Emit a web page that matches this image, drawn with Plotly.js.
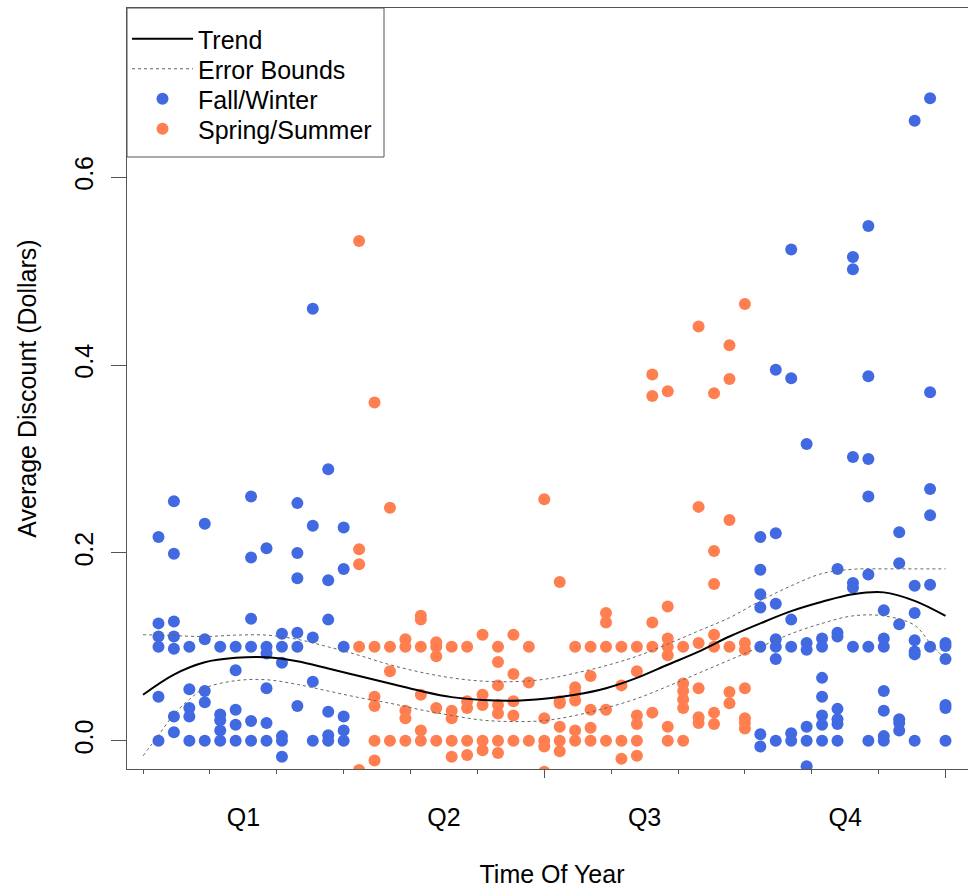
<!DOCTYPE html>
<html>
<head>
<meta charset="utf-8">
<script src="https://cdn.plot.ly/plotly-3.0.1.min.js"></script>
<style>
  html, body { margin: 0; padding: 0; overflow: hidden; background: #fff; }
  #chart { width: 990px; height: 892px; }
</style>
</head>
<body>
<div id="chart"></div>
<script>
// ---------------- DATA ----------------
var fallWinterWeeks = [1,2,3,4,5,6,7,8,9,10,11,12,13,40,41,42,43,44,45,46,47,48,49,50,51,52];
var fallWinterDiscounts = [
  [0.217,0.125,0.111,0.100,0.047,0.0],
  [0.255,0.199,0.127,0.111,0.098,0.026,0.009],
  [0.100,0.055,0.035,0.026,0.0],
  [0.231,0.108,0.053,0.041,0.0],
  [0.100,0.028,0.022,0.011,0.0],
  [0.100,0.075,0.033,0.017,0.0],
  [0.260,0.195,0.130,0.100,0.021,0.0],
  [0.205,0.100,0.093,0.056,0.019,0.0],
  [0.114,0.100,0.083,0.005,0.0,-0.017],
  [0.253,0.200,0.173,0.115,0.100,0.037],
  [0.460,0.229,0.110,0.063,0.0],
  [0.289,0.171,0.129,0.031,0.006,0.0],
  [0.227,0.183,0.100,0.026,0.011,0.0],
  [0.217,0.182,0.156,0.142,0.100,0.007,-0.006],
  [0.395,0.221,0.146,0.108,0.100,0.087,0.0],
  [0.523,0.386,0.129,0.100,0.008,0.0],
  [0.316,0.104,0.097,0.015,0.0,-0.027],
  [0.109,0.100,0.067,0.047,0.027,0.017,0.0],
  [0.183,0.115,0.111,0.034,0.023,0.018,0.0],
  [0.515,0.502,0.302,0.168,0.163,0.100],
  [0.548,0.388,0.300,0.260,0.177,0.100,0.0],
  [0.139,0.109,0.100,0.053,0.032,0.005,0.0],
  [0.222,0.189,0.124,0.023,0.019,0.011],
  [0.660,0.165,0.136,0.107,0.095,0.092,0.0],
  [0.684,0.371,0.268,0.240,0.166,0.100],
  [0.104,0.101,0.087,0.038,0.035,0.0]
];

var springSummerWeeks = [14,15,16,17,18,19,20,21,22,23,24,25,26,27,28,29,30,31,32,33,34,35,36,37,38,39];
var springSummerDiscounts = [
  [0.532,0.204,0.188,0.100,-0.031],
  [0.360,0.100,0.047,0.037,0.0,-0.021],
  [0.248,0.100,0.074,0.0],
  [0.108,0.100,0.032,0.024,0.0],
  [0.133,0.129,0.100,0.049,0.011,0.0],
  [0.105,0.100,0.090,0.035,0.0],
  [0.100,0.032,0.024,0.0,-0.017],
  [0.100,0.042,0.035,0.0,-0.015],
  [0.113,0.049,0.038,0.0,-0.010],
  [0.100,0.084,0.059,0.038,0.029,0.0,-0.013],
  [0.113,0.071,0.042,0.027,0.0],
  [0.100,0.062,0.0],
  [0.257,0.024,0.0,-0.006,-0.033],
  [0.169,0.042,0.040,0.015,0.0,-0.011],
  [0.100,0.057,0.051,0.043,0.011,0.0],
  [0.100,0.069,0.033,0.014,0.0],
  [0.136,0.126,0.100,0.033,0.0],
  [0.100,0.059,0.0,-0.019],
  [0.100,0.074,0.027,0.018,0.0,-0.016],
  [0.390,0.367,0.126,0.100,0.030],
  [0.372,0.143,0.109,0.100,0.091,0.015,0.0],
  [0.100,0.061,0.053,0.044,0.035,0.0],
  [0.441,0.249,0.104,0.056,0.025,0.019],
  [0.370,0.202,0.167,0.113,0.100,0.030,0.018],
  [0.421,0.385,0.235,0.100,0.052,0.040],
  [0.465,0.104,0.097,0.056,0.024,0.019,0.013]
];

var curveWeeks = [0,2,4,6,8,10,12,14,16,18,20,22,24,26,28,30,32,34,36,38,40,42,44,46,48,50,52];
var trendValues = [0.049,0.0705,0.0836,0.0883,0.089,0.0847,0.077,0.069,0.061,0.053,0.0465,0.0435,0.0427,0.0447,0.049,0.056,0.067,0.081,0.095,0.111,0.125,0.138,0.148,0.156,0.158,0.149,0.133];
var upperBoundValues = [0.113,0.112,0.111,0.1125,0.1125,0.108,0.100,0.091,0.081,0.073,0.067,0.0635,0.063,0.0655,0.072,0.080,0.090,0.103,0.117,0.131,0.149,0.165,0.178,0.1826,0.183,0.183,0.183];
var lowerBoundWeeks = [0,1,2,3,4,6,8,10,12,14,16,18,20,22,24,26,28,30,32,34,36,38,40,42,44,46,48,50,51,52];
var lowerBoundValues = [-0.016,0.006,0.028,0.044,0.056,0.064,0.065,0.060,0.053,0.046,0.040,0.033,0.027,0.022,0.0205,0.0215,0.027,0.035,0.045,0.058,0.072,0.086,0.100,0.114,0.125,0.133,0.133,0.123,0.104,0.0865];

var quarterLabels = ['Q1','Q2','Q3','Q4'];
var quarterCentres = [6.5,19.5,32.5,45.5];
var quarterBounds = [0,13,26,39,52];
var yTickValues = [0,0.2,0.4,0.6];
var yTickLabels = ['0.0','0.2','0.4','0.6'];

// ---------------- BUILD ----------------
function flatten(weeks, groups) {
  var xs = [], ys = [];
  for (var i = 0; i < weeks.length; i++) {
    for (var j = 0; j < groups[i].length; j++) {
      xs.push(weeks[i]);
      ys.push(groups[i][j]);
    }
  }
  return {x: xs, y: ys};
}
var fw = flatten(fallWinterWeeks, fallWinterDiscounts);
var ss = flatten(springSummerWeeks, springSummerDiscounts);

var FONT = 'Liberation Sans, Arial, Helvetica, sans-serif';
var FS = 25;

var traces = [
  {
    type: 'scatter', mode: 'markers', name: 'Fall/Winter', legend: 'legend3',
    x: fw.x, y: fw.y,
    marker: {color: '#4169E1', size: 12, line: {width: 0}}
  },
  {
    type: 'scatter', mode: 'markers', name: 'Spring/Summer', legend: 'legend4',
    x: ss.x, y: ss.y,
    marker: {color: '#FF7F50', size: 12, line: {width: 0}}
  },
  {
    type: 'scatter', mode: 'lines', name: 'Error Bounds', legend: 'legend2',
    x: curveWeeks.concat([null], lowerBoundWeeks),
    y: upperBoundValues.concat([null], lowerBoundValues),
    xaxis: 'x2',
    line: {color: '#666666', width: 1, dash: 'dot', shape: 'spline', smoothing: 1}
  },
  {
    type: 'scatter', mode: 'lines', name: 'Trend', legend: 'legend',
    x: curveWeeks, y: trendValues, xaxis: 'x2',
    line: {color: '#000000', width: 2, shape: 'spline', smoothing: 1}
  }
];

var xRange = [-1.04, 54.04];
// plot area: left 127, right 977, top 8, bottom 769
function paperY(px) { return (769 - px) / 761; }
function legendAt(px) {
  return {
    x: 0, y: paperY(px), xanchor: 'left', yanchor: 'middle',
    bgcolor: 'rgba(0,0,0,0)', borderwidth: 0,
    font: {family: FONT, size: FS, color: '#000000'},
    itemwidth: 61
  };
}

var layout = {
  width: 990, height: 892,
  margin: {l: 127, r: 13, t: 8, b: 123},
  paper_bgcolor: '#ffffff', plot_bgcolor: '#ffffff',
  font: {family: FONT, size: FS, color: '#000000'},
  showlegend: true,
  legend: legendAt(39),
  legend2: legendAt(69),
  legend3: legendAt(99),
  legend4: legendAt(129),
  shapes: [{
    type: 'rect', xref: 'paper', yref: 'paper',
    x0: 0, x1: (384 - 127) / 850, y0: paperY(157), y1: 1,
    line: {color: '#555555', width: 1}, fillcolor: '#ffffff', layer: 'above'
  }],
  xaxis: {
    range: xRange, showgrid: false, zeroline: false,
    showline: true, linecolor: '#555555', linewidth: 1, mirror: true,
    tickmode: 'array', tickvals: quarterBounds, ticktext: quarterBounds.map(function(){return '';}),
    ticks: 'outside', ticklen: 8, tickwidth: 1, tickcolor: '#555555',
    minor: {tickmode: 'linear', tick0: 0, dtick: 13/3, ticks: 'outside', ticklen: 4, tickwidth: 1, tickcolor: '#555555', showgrid: false},
    showticklabels: false, fixedrange: true
  },
  xaxis2: {
    overlaying: 'x', anchor: 'y', side: 'bottom',
    range: xRange, showgrid: false, zeroline: false, showline: false,
    tickmode: 'array', tickvals: quarterCentres, ticktext: quarterLabels,
    ticks: '', ticklabelstandoff: 31,
    tickfont: {family: FONT, size: FS, color: '#000000'},
    title: {text: 'Time Of Year', font: {family: FONT, size: FS, color: '#000000'}, standoff: 35},
    fixedrange: true
  },
  yaxis: {
    range: [-0.03, 0.78], showgrid: false, zeroline: false,
    showline: true, linecolor: '#555555', linewidth: 1, mirror: true,
    tickmode: 'array', tickvals: yTickValues, ticktext: yTickLabels,
    ticks: 'outside', ticklen: 15, tickwidth: 1, tickcolor: '#555555',
    tickangle: -90, ticklabelstandoff: 8,
    tickfont: {family: FONT, size: FS, color: '#000000'},
    title: {text: 'Average Discount (Dollars)', font: {family: FONT, size: FS, color: '#000000'}, standoff: 26},
    fixedrange: true
  }
};

Plotly.newPlot('chart', traces, layout, {staticPlot: true, displayModeBar: false});
</script>
</body>
</html>
